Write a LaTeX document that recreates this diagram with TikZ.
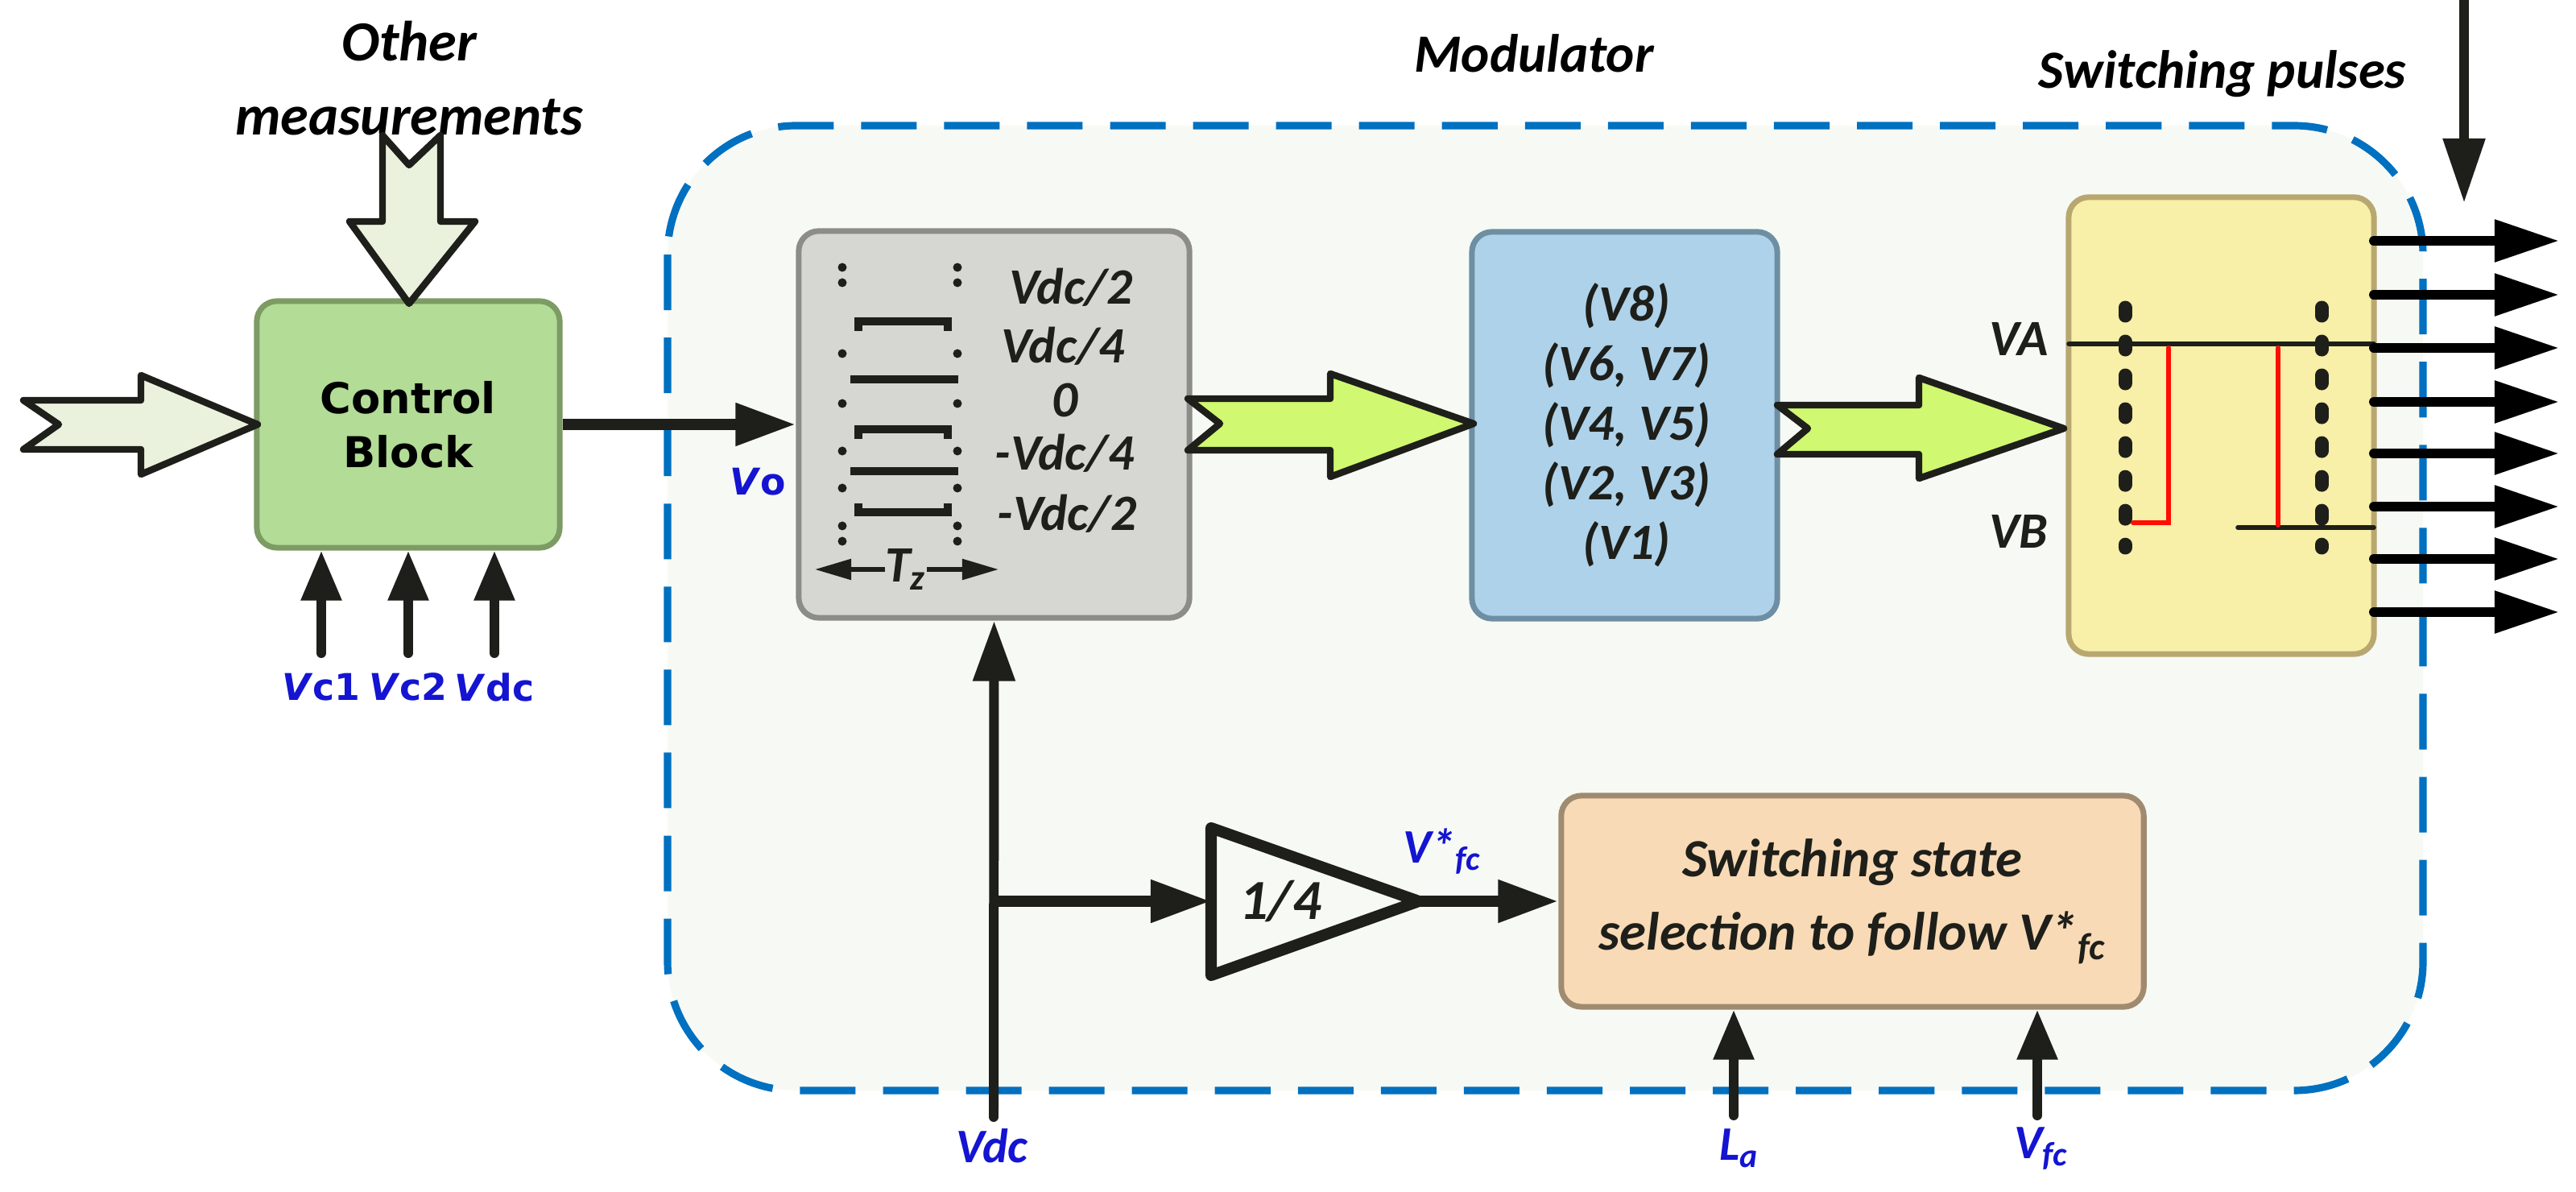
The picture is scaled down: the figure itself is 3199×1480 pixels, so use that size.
\documentclass[tikz,border=0pt]{standalone}
\usepackage{fontspec}
\setmainfont{Carlito}
\newfontfamily\dv{DejaVu Sans}
\usetikzlibrary{arrows.meta,shapes.geometric}
\definecolor{ink}{HTML}{1E1F1A}
\definecolor{lblue}{HTML}{1414D2}
\definecolor{dashc}{HTML}{0070C0}
\definecolor{modbg}{HTML}{F7F9F4}
\definecolor{fatf}{HTML}{EAF1DD}
\definecolor{limef}{HTML}{D0F870}
\tikzset{
 box/.style={rounded corners=0.25cm, line width=2pt, inner sep=0pt, align=center},
 conn/.style={draw=ink, line width=4pt, -{Triangle[length=0.75cm,width=0.5cm]}},
 sconn/.style={draw=ink, line width=3.4pt, line cap=round, -{Triangle[length=0.62cm,width=0.48cm]}},
 pulse/.style={draw=black, line width=3.4pt, line cap=round, -{Triangle[length=0.8cm,width=0.5cm]}},
 fat/.style={draw=ink, line width=2.4pt, line join=round},
 lab/.style={text=lblue, font=\bfseries\itshape\fontsize{17}{19}\selectfont, inner sep=0pt},
 dlab/.style={text=lblue, font=\dv\bfseries\fontsize{13}{15}\selectfont, inner sep=0pt},
 ttl/.style={font=\bfseries\itshape\fontsize{19}{22}\selectfont, inner sep=0pt, align=center},
 gtxt/.style={font=\bfseries\itshape\fontsize{18}{20}\selectfont, inner sep=0pt, text=ink},
 dots/.style={draw=ink, line width=0.17cm, line cap=round, dash pattern=on 0.1cm off 0.32cm},
}
\begin{document}
\begin{tikzpicture}[x=0.01cm,y=-0.01cm]
\useasboundingbox (0,0) rectangle (3199,1480);
% modulator region
\draw[draw=dashc, line width=2.6pt, dash pattern=on 0.69cm off 0.34cm, fill=modbg, rounded corners=1.6cm] (829,156) rectangle (3009,1354);
\node[ttl] (modt) at (1905,66) {Modulator};
\node[ttl] (swt) at (2760,92) {Switching pulses};
\node[ttl, font=\bfseries\itshape\fontsize{20}{26}\selectfont] (oth) at (508,97) {Other\\measurements};

% blocks
\node[box, fill={rgb,255:red,179;green,220;blue,150}, draw={rgb,255:red,125;green,155;blue,100}, minimum width=3.76cm, minimum height=3.06cm, font=\dv\bfseries\fontsize{15}{19}\selectfont] (ctrl) at (507,527) {Control\\Block};
\node[box, fill={rgb,255:red,214;green,215;blue,210}, draw={rgb,255:red,140;green,140;blue,136}, minimum width=4.85cm, minimum height=4.8cm] (gray) at (1234.5,527) {};
\node[box, fill={rgb,255:red,174;green,210;blue,234}, draw={rgb,255:red,110;green,143;blue,163}, minimum width=3.79cm, minimum height=4.8cm] (blue) at (2017.5,528) {};
\node[box, fill={rgb,255:red,248;green,239;blue,168}, draw={rgb,255:red,184;green,168;blue,112}, minimum width=3.79cm, minimum height=5.67cm] (yel) at (2758.5,528.5) {};
\node[box, fill={rgb,255:red,248;green,218;blue,182}, draw={rgb,255:red,160;green,139;blue,112}, minimum width=7.23cm, minimum height=2.62cm, font=\bfseries\itshape\fontsize{19}{26}\selectfont, text=ink] (orng) at (2300.5,1119) {Switching state\\selection to follow V*\textsubscript{fc}};

% gray block contents
\foreach \x in {1046,1189}{
  \foreach \y in {332,351,439,501,560,606,653,672}{
    \fill[ink] (\x,\y) circle (0.055cm);
  }
}
\draw[ink, line width=3pt] (1066,411) -- (1066,399) -- (1177,399) -- (1177,411);
\draw[ink, line width=2.6pt] (1056,471) -- (1190,471);
\draw[ink, line width=3pt] (1066,545) -- (1066,533) -- (1177,533) -- (1177,545);
\draw[ink, line width=2.6pt] (1056,585) -- (1190,585);
\draw[ink, line width=3pt] (1066,625) -- (1066,636) -- (1177,636) -- (1177,625);
\node[gtxt] (t1) at (1330,357) {Vdc/2};
\node[gtxt] (t2) at (1320,430) {Vdc/4};
\node[gtxt] (t3) at (1323,497) {0};
\node[gtxt] (t4) at (1322,563) {-Vdc/4};
\node[gtxt] (t5) at (1325,638) {-Vdc/2};
\node[gtxt] (tz) at (1125,707) {T\textsubscript{z}};
\coordinate (tzl) at (1012,707);
\coordinate (tzr) at (1240,707);
\draw[ink, line width=1.5pt, -{Triangle[length=0.45cm,width=0.25cm]}] (tz.west) -- (tzl);
\draw[ink, line width=1.5pt, -{Triangle[length=0.45cm,width=0.25cm]}] (tz.east) -- (tzr);

% blue block contents
\node[gtxt] (b1) at (2020,380) {(V8)};
\node[gtxt] (b2) at (2020,454) {(V6, V7)};
\node[gtxt] (b3) at (2020,528) {(V4, V5)};
\node[gtxt] (b4) at (2020,602) {(V2, V3)};
\node[gtxt] (b5) at (2020,676) {(V1)};

% yellow block contents
\draw[dots] (2639,382) -- (2639,680);
\draw[dots] (2883,382) -- (2883,680);
\draw[ink, line width=1.6pt, line cap=round] (2569,427) -- (2948,427);
\draw[ink, line width=1.6pt, line cap=round] (2779,655) -- (2948,655);
\draw[red!90!orange, line width=1.7pt, line cap=round, line join=miter] (2693,432) -- (2693,649) -- (2649,649);
\draw[red!90!orange, line width=1.7pt, line cap=round] (2829,432) -- (2829,652);
\node[gtxt] (va) at (2507,421) {VA};
\node[gtxt] (vb) at (2507,660) {VB};

% output pulses
\foreach \y [count=\i] in {299,366,432,499,563,629,694,760}{
  \coordinate (ps\i) at (2948,\y);
  \coordinate (pe\i) at (3178,\y);
  \draw[pulse] (ps\i) -- (pe\i);
}
\coordinate (dtop) at (3060,0);
\coordinate (dbot) at (3060,252);
\draw[ink, line width=3.4pt, -{Triangle[length=0.8cm,width=0.5cm]}] (dtop) -- (dbot);

% fat arrows
\draw[fat, fill=fatf] (29,497) -- (175,497) -- (175,466) -- (320,527) -- (175,589) -- (175,558) -- (29,558) -- (73,527) -- cycle;
\draw[fat, fill=fatf] (475,168) -- (508,205) -- (547,168) -- (547,275) -- (590,275) -- (508,377) -- (434,275) -- (475,275) -- cycle;
\draw[fat, fill=limef] (1475,495) -- (1652,495) -- (1652,464) -- (1830,526) -- (1652,592) -- (1652,559) -- (1475,559) -- (1515,526) -- cycle;
\draw[fat, fill=limef] (2207,503) -- (2383,503) -- (2383,469) -- (2563,532) -- (2383,594) -- (2383,564) -- (2207,564) -- (2245,532) -- cycle;

% connectors
\draw[conn] (ctrl.east) -- (gray.west);
\node[dlab] (vo) at (941,598) {\textit{V}o};
\foreach \x/\n/\t in {399/a/c1, 507/b/c2, 614/c/dc}{
  \coordinate (in\n) at (\x,811);
  \draw[sconn] (in\n) -- (in\n |- ctrl.south);
  \node[dlab] (l\n) at (\x,853) {\textit{V}\t};
}
\coordinate (vdcb) at (1234,1387);
\coordinate (br) at (1234,1119);
\draw[ink, line width=3.4pt, line cap=round, -{Triangle[length=0.75cm,width=0.5cm]}] (vdcb) -- (gray.south);
\coordinate (tl) at (1504,1028);
\coordinate (tb) at (1504,1211);
\coordinate (tt) at (1762,1119);
\draw[ink, line width=4pt, line join=round, fill=modbg] (tl) -- (tt) -- (tb) -- cycle;
\node[gtxt, font=\bfseries\itshape\fontsize{20}{22}\selectfont] (q) at (1590,1119) {1/4};
\draw[conn] (br) -- (tl |- br);
\draw[conn] (tt) -- (orng.west);
\node[lab] (vfs) at (1791,1057) {V*\textsubscript{fc}};
\coordinate (la) at (2153,1385);
\coordinate (vf) at (2530,1385);
\draw[sconn] (la) -- (la |- orng.south);
\draw[sconn] (vf) -- (vf |- orng.south);
\node[lab] (lvdc) at (1232,1423) {Vdc};
\node[lab] (lla) at (2160,1426) {L\textsubscript{a}};
\node[lab] (lvf) at (2535,1426) {V\textsubscript{fc}};
\end{tikzpicture}
\end{document}
